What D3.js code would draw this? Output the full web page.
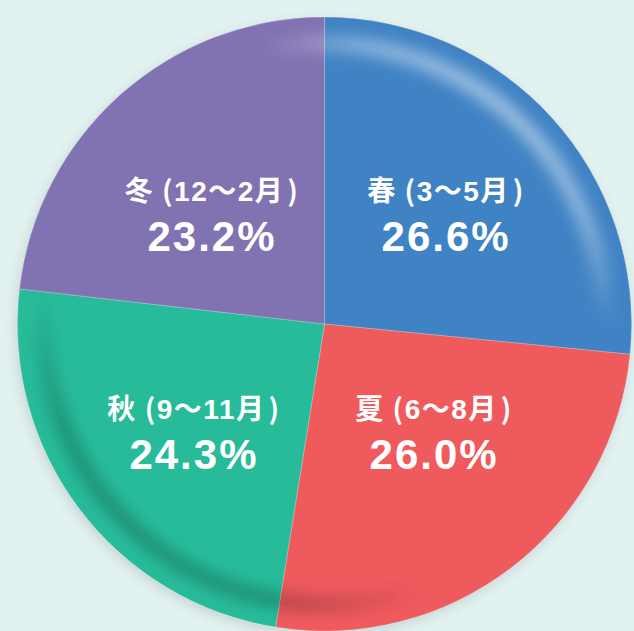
<!DOCTYPE html>
<html>
<head>
<meta charset="utf-8">
<script src="https://cdn.jsdelivr.net/npm/d3@7"></script>
<style>
  html, body { margin: 0; padding: 0; background: #e2f2f0; }
  svg { display: block; }
</style>
</head>
<body>
<div id="container"></div>
<script>
/* CONSTANTS AND GLOBALS */
const width = 634,
  height = 631;

// season labels, month ranges and shares (%)
const seasons = ["春", "夏", "秋", "冬"];
const monthRanges = ["3〜5月", "6〜8月", "9〜11月", "12〜2月"];
const shares = [26.6, 26.0, 24.3, 23.2];
const colors = ["#4083c4", "#ef5a5d", "#27bb9a", "#8172b2"];

const cx = 324.5, cy = 324, radius = 307;

const data = seasons.map((s, i) => ({
  season: s,
  months: monthRanges[i],
  value: shares[i]
}));

const svg = d3.select("#container")
  .append("svg")
  .attr("width", width)
  .attr("height", height);

const defs = svg.append("defs");

// soft shadow round the pie
const shadow = defs.append("filter")
  .attr("id", "shadow")
  .attr("x", "-20%").attr("y", "-20%")
  .attr("width", "140%").attr("height", "140%");
shadow.append("feDropShadow")
  .attr("dx", -2).attr("dy", 4)
  .attr("stdDeviation", 6)
  .attr("flood-color", "#000")
  .attr("flood-opacity", 0.12);

// bevel: light on the upper right, dark on the lower left
const a1 = 45 * Math.PI / 180, a2 = 212 * Math.PI / 180;
const bevel = defs.append("linearGradient")
  .attr("id", "bevel")
  .attr("gradientUnits", "userSpaceOnUse")
  .attr("x1", cx + radius * Math.sin(a1)).attr("y1", cy - radius * Math.cos(a1))
  .attr("x2", cx + radius * Math.sin(a2)).attr("y2", cy - radius * Math.cos(a2));
[
  [0, "#fff", 0.5],
  [0.1, "#fff", 0.35],
  [0.21, "#fff", 0],
  [0.74, "#000", 0],
  [0.9, "#000", 0.2],
  [1, "#000", 0.2]
].forEach(([o, c, a]) => bevel.append("stop")
  .attr("offset", o).attr("stop-color", c).attr("stop-opacity", a));

const blur = defs.append("filter")
  .attr("id", "blur")
  .attr("x", "-10%").attr("y", "-10%")
  .attr("width", "120%").attr("height", "120%");
blur.append("feGaussianBlur").attr("stdDeviation", 7);

defs.append("clipPath").attr("id", "pieClip")
  .append("circle").attr("cx", cx).attr("cy", cy).attr("r", radius);

const pie = d3.pie()
  .sort(null)
  .value(d => d.value)
  .startAngle(0)
  .endAngle(2 * Math.PI);

const arcs = pie(data);

const arc = d3.arc()
  .innerRadius(0)
  .outerRadius(radius);

const labelArc = d3.arc()
  .innerRadius(160)
  .outerRadius(160);

const g = svg.append("g")
  .attr("transform", `translate(${cx},${cy})`);

g.append("circle")
  .attr("r", radius)
  .attr("fill", "#8aa")
  .attr("filter", "url(#shadow)");

g.selectAll("path.slice")
  .data(arcs)
  .join("path")
  .attr("class", "slice")
  .attr("d", arc)
  .attr("fill", (d, i) => colors[i])
  .attr("stroke", "rgba(255,255,255,0.3)")
  .attr("stroke-width", 0.8);

// inner bevel ring
svg.append("g")
  .attr("clip-path", "url(#pieClip)")
  .append("circle")
  .attr("cx", cx).attr("cy", cy)
  .attr("r", radius - 27)
  .attr("fill", "none")
  .attr("stroke", "url(#bevel)")
  .attr("stroke-width", 18)
  .attr("filter", "url(#blur)");

// labels: nudges so they sit like the original
const nudge = [[3, -1], [12, -17], [-3, 13], [-6, 11]];

const labels = g.selectAll("g.label")
  .data(arcs)
  .join("g")
  .attr("class", "label")
  .attr("transform", (d, i) => {
    const [x, y] = labelArc.centroid(d);
    return `translate(${x + nudge[i][0]},${y + nudge[i][1]})`;
  });

const cjk = "'Noto Sans CJK JP', sans-serif";
const line1 = labels.append("text")
  .attr("text-anchor", "middle")
  .attr("y", -15)
  .attr("fill", "#fff")
  .style("font-family", "'Liberation Sans', 'Noto Sans CJK JP', sans-serif")
  .style("font-weight", "bold")
  .style("font-size", "28px")
  .style("letter-spacing", "1.5px");
line1.append("tspan").style("font-family", cjk).text(d => `${d.data.season} (`);
line1.append("tspan").text(d => d.data.months);
line1.append("tspan").attr("dx", 3).style("font-family", cjk).text(")");

labels.append("text")
  .attr("text-anchor", "middle")
  .attr("y", 35)
  .attr("fill", "#fff")
  .style("font-family", "'Liberation Sans', Arial, sans-serif")
  .style("font-weight", "bold")
  .style("font-size", "42px")
  .style("letter-spacing", "2px")
  .text(d => `${d.data.value.toFixed(1)}%`);
</script>
</body>
</html>
